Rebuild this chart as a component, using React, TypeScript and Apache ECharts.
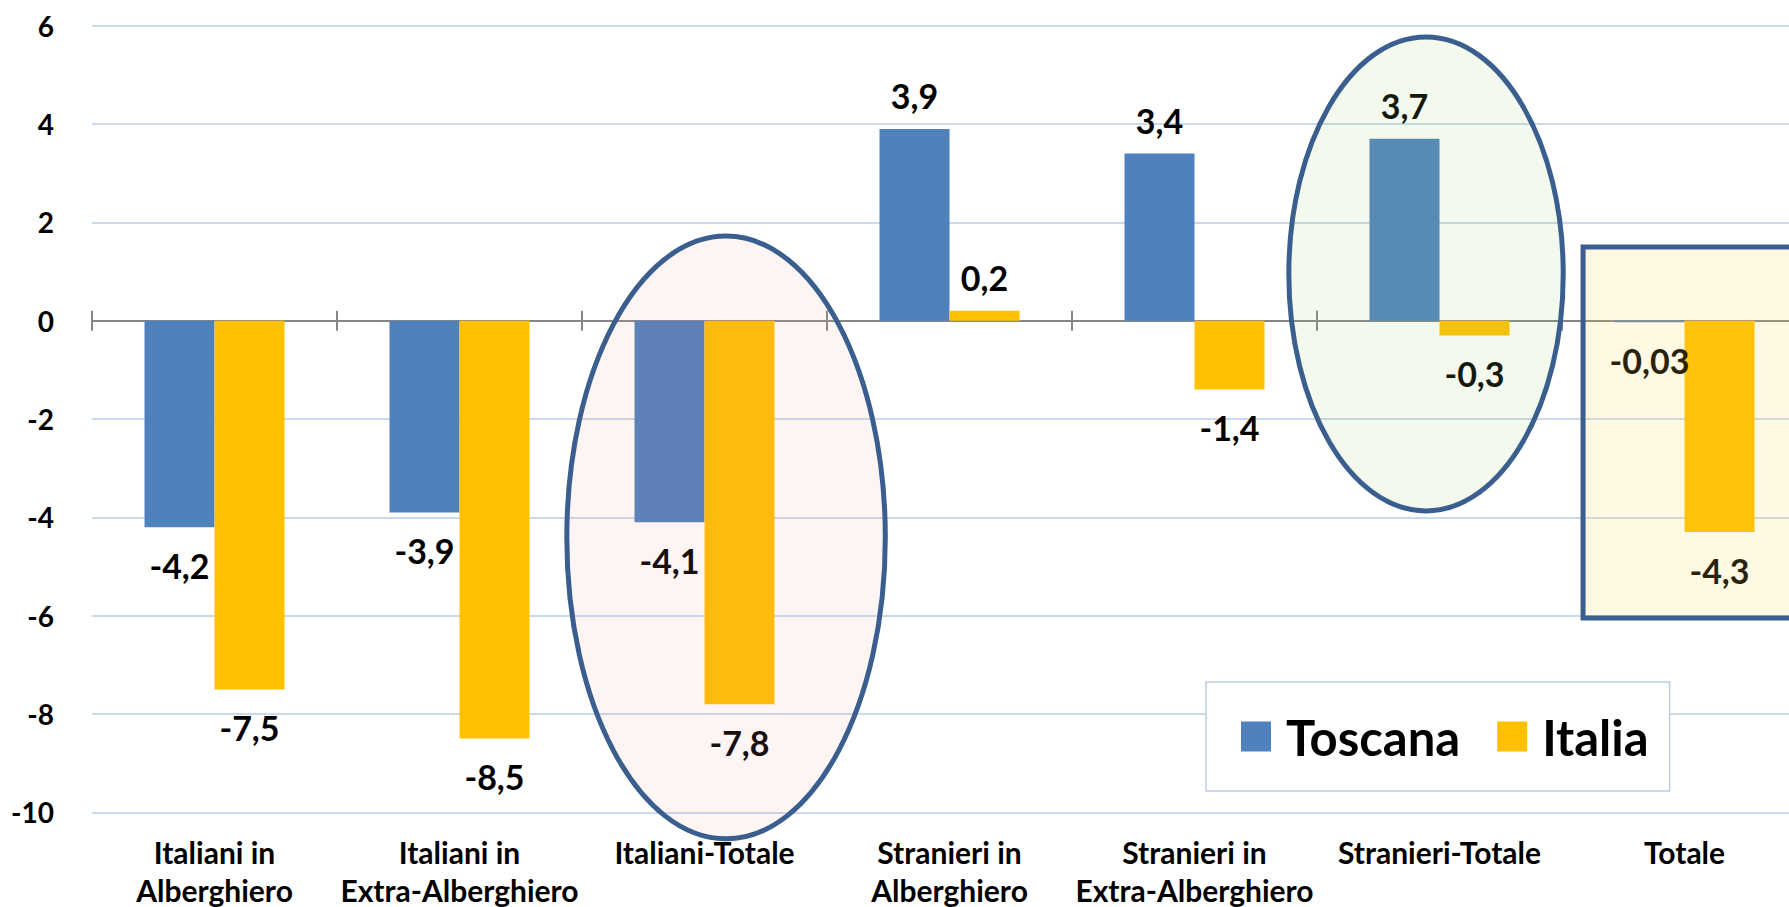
import React, { useEffect, useRef } from "react";
import * as echarts from "echarts";

const categories = [
  "Italiani in\nAlberghiero",
  "Italiani in\nExtra-Alberghiero",
  "Italiani-Totale",
  "Stranieri in\nAlberghiero",
  "Stranieri in\nExtra-Alberghiero",
  "Stranieri-Totale",
  "Totale",
];
const toscana = [-4.2, -3.9, -4.1, 3.9, 3.4, 3.7, -0.03];
const italia = [-7.5, -8.5, -7.8, 0.2, -1.4, -0.3, -4.3];
const seriesNames = ["Toscana", "Italia"];
const yMin = -10;
const yMax = 6;
const yInterval = 2;

const FONT = "Lato, 'Open Sans', sans-serif";
const BLUE = "#4F81BD";
const GOLD = "#FFC000";
const OUTLINE = "#3A5F8F";

const fmt = (v: number) => String(v).replace(".", ",");

const barData = (vals: number[]) =>
  vals.map((v) => ({
    value: v,
    label: {
      position: v >= 0 ? "top" : "bottom",
      distance: v >= 0 ? 16 : 21,
    },
  }));

export default function App() {
  const ref = useRef<HTMLDivElement>(null);
  useEffect(() => {
    if (!ref.current) return;
    const chart = echarts.init(ref.current, null, { renderer: "svg" });
    const labelStyle = {
      show: true,
      fontFamily: FONT,
      fontSize: 34,
      fontWeight: "bold",
      color: "#000",
      formatter: (p: any) => fmt(p.value),
    };
    const zeroAxis = (inside: boolean, yIdx: number) => ({
      type: "category",
      data: categories,
      position: "bottom",
      axisLine: {
        show: true,
        onZero: true,
        onZeroAxisIndex: yIdx,
        lineStyle: { color: "#868686", width: 2 },
      },
      axisTick: { show: true, inside, length: 10, lineStyle: { color: "#868686", width: 2 } },
      axisLabel: { show: false },
      splitLine: { show: false },
    });
    const hiddenY = {
      type: "value",
      min: yMin,
      max: yMax,
      interval: yInterval,
      axisLine: { show: false },
      axisTick: { show: false },
      axisLabel: { show: false },
      splitLine: { show: false },
    };
    chart.setOption({
      animation: false,
      backgroundColor: "#fff",
      grid: {
        left: 92,
        width: 1715,
        top: 25.7,
        bottom: 94.7,
        containLabel: false,
        outerBoundsMode: "none",
      },
      legend: {
        data: seriesNames,
        left: 1206,
        top: 682,
        orient: "horizontal",
        icon: "rect",
        itemWidth: 30,
        itemHeight: 30,
        itemGap: 37,
        padding: [30, 21, 30, 35],
        borderColor: "#B9CDE5",
        borderWidth: 1.5,
        backgroundColor: "#fff",
        textStyle: {
          fontFamily: FONT,
          fontSize: 49,
          fontWeight: "bold",
          color: "#000",
          padding: [0, 0, 0, 10],
        },
        z: 50,
      },
      xAxis: [
        {
          type: "category",
          data: categories,
          position: "bottom",
          axisLine: { show: false, onZero: false },
          axisTick: { show: false },
          axisLabel: {
            interval: 0,
            fontFamily: FONT,
            fontSize: 30,
            fontWeight: "bold",
            color: "#000",
            lineHeight: 38,
            margin: 21,
          },
        },
        zeroAxis(true, 0),
        zeroAxis(false, 1),
      ],
      yAxis: [
        {
          type: "value",
          min: yMin,
          max: yMax,
          interval: yInterval,
          axisLine: { show: false },
          axisTick: { show: false },
          axisLabel: {
            fontFamily: FONT,
            fontSize: 28,
            fontWeight: "bold",
            color: "#000",
            margin: 38,
          },
          splitLine: { lineStyle: { color: "#B9CDE5", width: 1.5 } },
        },
        hiddenY,
      ],
      series: [
        {
          name: seriesNames[0],
          type: "bar",
          xAxisIndex: 0,
          yAxisIndex: 0,
          barWidth: 70,
          barGap: "0%",
          itemStyle: { color: BLUE },
          label: labelStyle,
          data: barData(toscana),
        },
        {
          name: seriesNames[1],
          type: "bar",
          xAxisIndex: 0,
          yAxisIndex: 0,
          barWidth: 70,
          barGap: "0%",
          itemStyle: { color: GOLD },
          label: labelStyle,
          data: barData(italia),
        },
      ],
    });

    const cx = (i: number) => chart.convertToPixel({ xAxisIndex: 0 }, categories[i]) as number;
    const cy = (v: number) => chart.convertToPixel({ yAxisIndex: 0 }, v) as number;
    const catW = cx(1) - cx(0);
    const unit = cy(0) - cy(1);

    chart.setOption({
      graphic: [
        {
          type: "ellipse",
          z: 100,
          shape: {
            cx: cx(2) + 0.088 * catW,
            cy: cy(-4.41),
            rx: 0.65 * catW,
            ry: 6.13 * unit,
          },
          style: { fill: "rgba(235,150,150,0.1)", stroke: OUTLINE, lineWidth: 5 },
        },
        {
          type: "ellipse",
          z: 100,
          shape: {
            cx: cx(5) - 0.055 * catW,
            cy: cy(0.95),
            rx: 0.56 * catW,
            ry: 4.82 * unit,
          },
          style: { fill: "rgba(160,215,110,0.12)", stroke: OUTLINE, lineWidth: 5 },
        },
        {
          type: "rect",
          z: 100,
          shape: {
            x: cx(6) - 0.414 * catW,
            y: cy(1.5),
            width: 1.0 * catW,
            height: cy(-6.05) - cy(1.5),
          },
          style: { fill: "rgba(255,210,80,0.16)", stroke: OUTLINE, lineWidth: 5 },
        },
      ],
    });

    return () => chart.dispose();
  }, []);
  return (
    <div
      ref={ref}
      style={{ position: "fixed", left: 0, top: 0, width: 1789, height: 907, background: "#fff" }}
    />
  );
}
